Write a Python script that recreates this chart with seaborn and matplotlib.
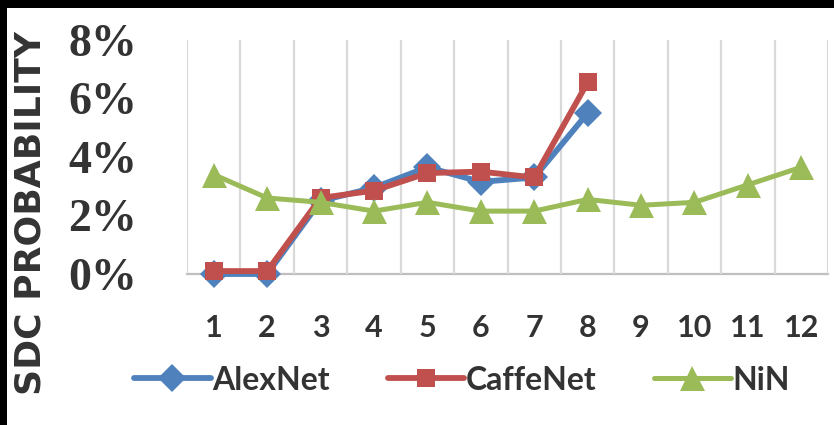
import matplotlib
matplotlib.use("Agg")
import matplotlib.pyplot as plt
from matplotlib.patches import Rectangle
from matplotlib.ticker import FixedLocator, FuncFormatter
import numpy as np
import pandas as pd
import seaborn as sns

# Layer index on the x axis
layers = list(range(1, 13))

# SDC probability (%) per layer for each network
alexnet = [0.0, 0.0, 2.5, 2.95, 3.65, 3.15, 3.3, 5.5]
caffenet = [0.1, 0.1, 2.6, 2.85, 3.45, 3.5, 3.3, 6.55]
nin = [3.4, 2.6, 2.45, 2.15, 2.45, 2.15, 2.15, 2.55, 2.35, 2.45, 3.05, 3.65]

series_names = ["AlexNet", "CaffeNet", "NiN"]
series_values = [alexnet, caffenet, nin]
colors = ["#4F81BD", "#C0504D", "#9BBB59"]
markers = ["D", "s", "^"]
marker_sizes = [14, 13, 18]
line_widths = [4.2, 4.2, 3.6]

ytick_values = [0, 2, 4, 6, 8]

sns.set_theme(style="white")
text_color = "#333333"
sans_family = ["Lato", "DejaVu Sans"]

fig = plt.figure(figsize=(8.34, 4.25), dpi=100)
ax = fig.add_axes([187 / 834, 1 - 274 / 425, (828 - 187) / 834, (274 - 40) / 425])

for name, vals, col, mk, ms, lw in zip(series_names, series_values, colors,
                                        markers, marker_sizes, line_widths):
    df = pd.DataFrame({"layer": layers[:len(vals)], "sdc": vals})
    sns.lineplot(data=df, x="layer", y="sdc", ax=ax, color=col, marker=mk,
                 markersize=ms, markeredgewidth=0, linewidth=lw, label=name,
                 solid_joinstyle="round", clip_on=False)

ax.set_xlim(0.5, 12.5)
ax.set_ylim(0, 8)

# Category boundaries as vertical gridlines
ax.xaxis.set_major_locator(FixedLocator(layers))
ax.xaxis.set_minor_locator(FixedLocator([x + 0.5 for x in range(0, 13)]))
ax.grid(False)
ax.grid(which="minor", axis="x", color="#d9d9d9", linewidth=1.6)
ax.tick_params(which="both", length=0)

ax.yaxis.set_major_locator(FixedLocator(ytick_values))
ax.yaxis.set_major_formatter(FuncFormatter(lambda v, _: f"{v:.0f}%"))

for s in ["top", "right", "left"]:
    ax.spines[s].set_visible(False)
ax.spines["bottom"].set_color("#bfbfbf")
ax.spines["bottom"].set_linewidth(1.6)
ax.spines["bottom"].set_zorder(0.5)

ax.set_xlabel("")
ax.set_ylabel("")
ax.tick_params(axis="x", pad=29)
ax.tick_params(axis="y", pad=36)
for lab in ax.get_xticklabels():
    lab.set_family(sans_family)
    lab.set_fontweight("bold")
    lab.set_fontsize(22)
    lab.set_color(text_color)
for lab in ax.get_yticklabels():
    lab.set_family(["Liberation Serif", "DejaVu Serif"])
    lab.set_fontweight("bold")
    lab.set_fontsize(33)
    lab.set_color(text_color)

fig.text(0.036, 0.4976, "SDC PROBABILITY", rotation=90, ha="center", va="center",
         fontsize=26, fontweight="bold", color=text_color, family=["DejaVu Sans"])

leg = ax.legend(loc="center", bbox_to_anchor=(462 / 834, 1 - 380 / 425),
                bbox_transform=fig.transFigure, ncol=3, frameon=False,
                handlelength=2.4, handletextpad=0.05, columnspacing=1.8,
                prop={"family": sans_family, "weight": "bold", "size": 23})
for t in leg.get_texts():
    t.set_color(text_color)

# Dark frame strips along the top and left edges
fig.patches.append(Rectangle((0, 1 - 8 / 425), 1, 8 / 425, transform=fig.transFigure,
                             facecolor="black", edgecolor="none", zorder=10))
fig.patches.append(Rectangle((0, 0), 7 / 834, 1, transform=fig.transFigure,
                             facecolor="black", edgecolor="none", zorder=10))

fig.savefig("out.png", dpi=100)
